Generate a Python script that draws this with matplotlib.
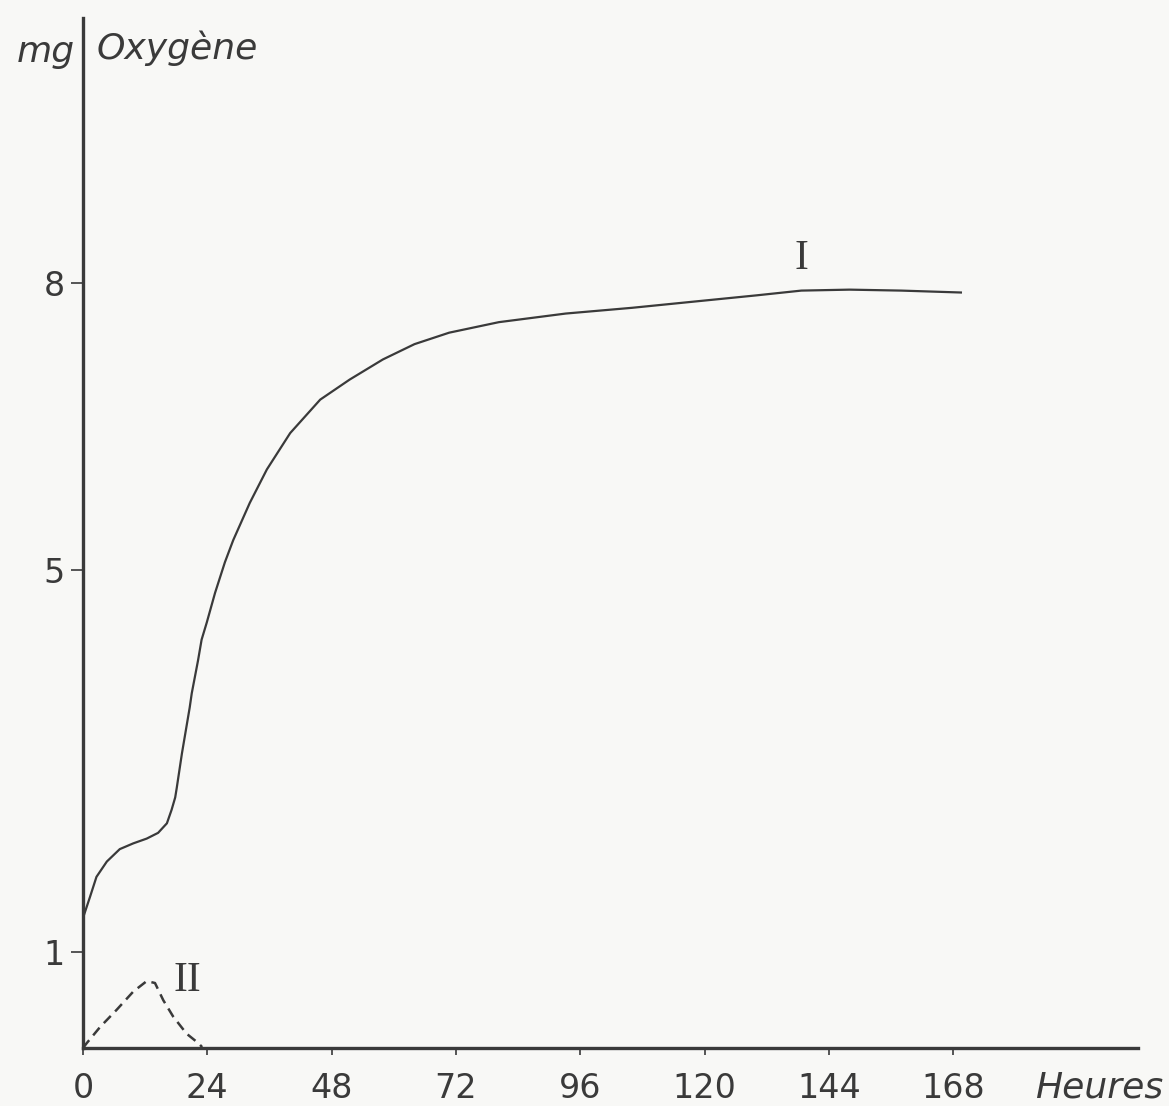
import matplotlib
matplotlib.use("Agg")
from matplotlib import pyplot as plt

# courbe I : consommation d'oxygene (mg) en fonction du temps (heures)
heures_I = [0, 1.35, 2.6, 4.6, 7.1, 9.7, 12.3, 14.5, 16.2, 17.1, 17.8, 18.1,
            19.1, 20.6, 21.0, 22.2, 22.9, 23.9, 25.5, 27.4, 29.0, 32.2, 35.5,
            40.0, 45.8, 51.5, 57.9, 64.0, 70.7, 80.3, 93.2, 106, 118.9, 130,
            138.7, 148, 158, 169.5]
oxygene_I = [1.36, 1.58, 1.79, 1.95, 2.08, 2.14, 2.19, 2.25, 2.35, 2.49, 2.62,
             2.72, 3.08, 3.56, 3.71, 4.05, 4.27, 4.45, 4.76, 5.08, 5.31, 5.70,
             6.05, 6.43, 6.78, 6.99, 7.20, 7.36, 7.48, 7.59, 7.68, 7.74, 7.81,
             7.87, 7.92, 7.93, 7.92, 7.90]

# courbe II (tirets)
heures_II = [0, 0.7, 3.3, 6.5, 9.7, 12.3, 13.9, 15.5, 17.4, 20.0, 22.3, 23.0]
oxygene_II = [0.0, 0.05, 0.22, 0.40, 0.59, 0.70, 0.68, 0.50, 0.33, 0.15, 0.05,
              0.01]

x_ticks = [0, 24, 48, 72, 96, 120, 144, 168]
y_ticks = [1, 5, 8]

ink = "#3a3a3a"

fig = plt.figure(figsize=(11.69, 11.06), dpi=100, facecolor="#f8f8f6")
ax = fig.add_axes([0.071, 0.0524, 0.9025, 0.9313])
ax.set_facecolor("#f8f8f6")

ax.plot(heures_I, oxygene_I, color=ink, lw=1.6, solid_joinstyle="round")
ax.plot(heures_II, oxygene_II, color=ink, lw=1.8, dashes=(4, 2.5),
        dash_joinstyle="round")

ax.set_xlim(0, 203.7)
ax.set_ylim(0, 10.77)

for s in ["top", "right"]:
    ax.spines[s].set_visible(False)
for s in ["left", "bottom"]:
    ax.spines[s].set_linewidth(2.4)
    ax.spines[s].set_color(ink)

ax.set_xticks(x_ticks)
ax.set_xticklabels([str(t) for t in x_ticks])
ax.set_yticks(y_ticks)
ax.set_yticklabels([str(t) for t in y_ticks])
ax.tick_params(axis="x", direction="out", length=5, width=1.2, color=ink,
               pad=12, labelsize=24, labelcolor=ink)
ax.tick_params(axis="y", direction="out", length=9, width=1.2, color=ink,
               pad=4, labelsize=24, labelcolor=ink)

# textes
fig.text(17 / 1169, 1 - 52 / 1106, "mg", fontsize=26, style="italic",
         color=ink, ha="left", va="center")
fig.text(97 / 1169, 1 - 48 / 1106, "Oxygène", fontsize=26, style="italic",
         color=ink, ha="left", va="center")
fig.text(1035 / 1169, 1 - 1088 / 1106, "Heures", fontsize=26, style="italic",
         color=ink, ha="left", va="center")
ax.text(138.7, 8.25, "I", fontsize=30, family="Liberation Serif",
        color=ink, ha="center", va="center")
ax.text(20.2, 0.70, "II", fontsize=30, family="Liberation Serif",
        color=ink, ha="center", va="center")

fig.savefig("out.png", dpi=100, facecolor=fig.get_facecolor())
